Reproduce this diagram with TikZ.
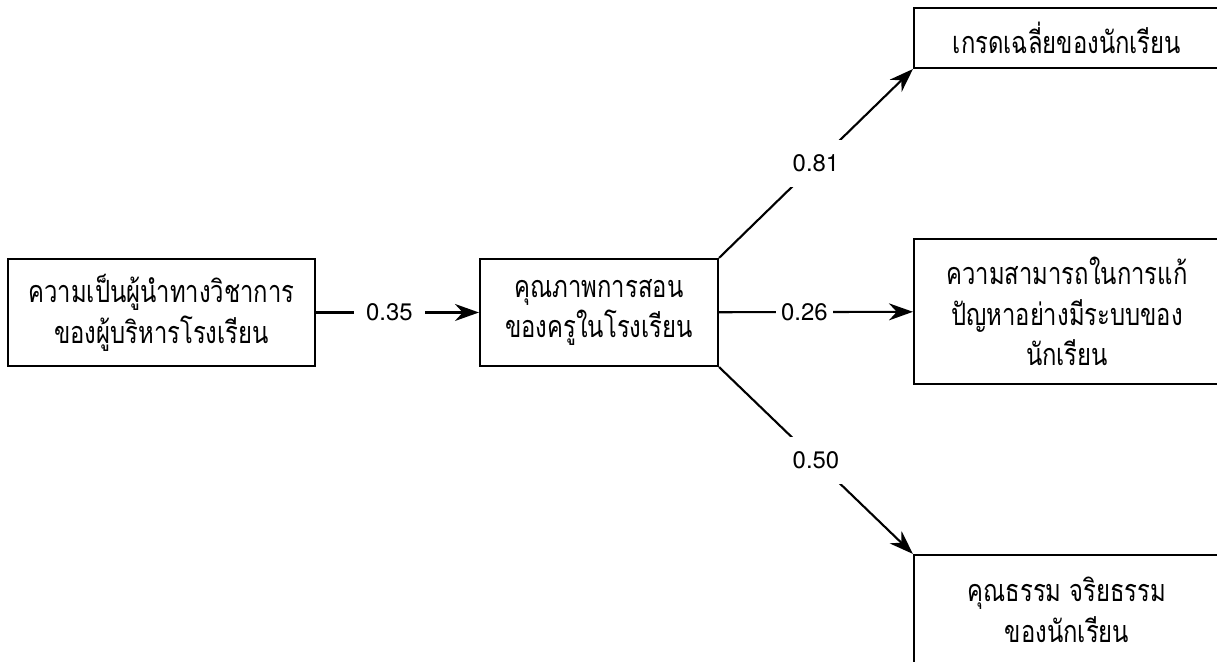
\documentclass[tikz,border=0pt]{standalone}
\usepackage{fontspec}
\setmainfont{TeX Gyre Heros}
\newfontfamily\thaifont[Script=Thai, FakeStretch=0.78]{Loma}
\usetikzlibrary{arrows.meta}
\begin{document}
\begin{tikzpicture}[line width=0.6pt,
    box/.style={draw, align=center, inner sep=0pt,
        font=\thaifont\fontsize{8.7}{11.6}\selectfont},
    lbl/.style={fill=white, inner sep=0.12cm, font=\fontsize{6.8}{8}\selectfont}]
    \useasboundingbox (0,0) rectangle (12.17,6.62); % page frame
    \node[box, minimum width=3.07cm, minimum height=1.07cm] (leader) at (1.615,3.495) {ความเป็นผู้นำทางวิชาการ\\ของผู้บริหารโรงเรียน};
    \node[box, minimum width=2.38cm, minimum height=1.07cm] (teach)  at (5.99,3.495)  {คุณภาพการสอน\\ของครูในโรงเรียน};
    \node[box, minimum width=3.06cm, minimum height=0.60cm] (grade)  at (10.67,6.24)  {เกรดเฉลี่ยของนักเรียน};
    \node[box, minimum width=3.06cm, minimum height=1.45cm] (solve)  at (10.67,3.505) {ความสามารถในการแก้\\ปัญหาอย่างมีระบบของ\\นักเรียน};
    \node[box, minimum width=3.06cm, minimum height=1.10cm] (moral)  at (10.67,0.52)  {คุณธรรม จริยธรรม\\ของนักเรียน};
    \path[-{Stealth[length=0.24cm, width=0.17cm]}]
    (leader) edge node[lbl, pos=0.45] {0.35} (teach)
    (teach) edge node[lbl, pos=0.44, inner sep=0.05cm] {0.26} (solve)
    (teach.north east) edge node[lbl, inner sep=0.15cm] {0.81} (grade.south west)
    (teach.south east) edge node[lbl, inner sep=0.15cm] {0.50} (moral.north west);
\end{tikzpicture}
\end{document}
